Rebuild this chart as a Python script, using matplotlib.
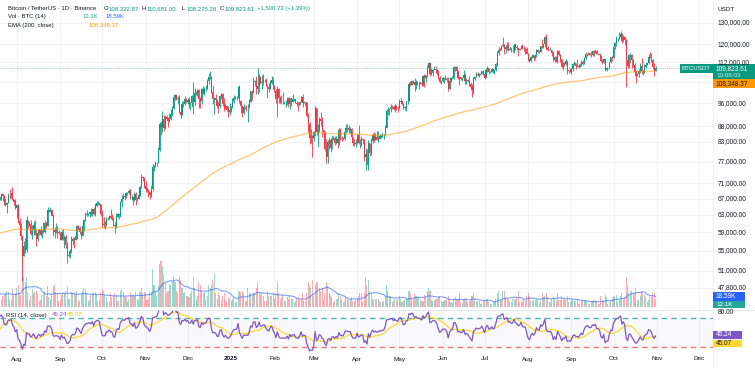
import numpy as np
import pandas as pd
import matplotlib
matplotlib.use("Agg")
import matplotlib.pyplot as plt
from matplotlib.patches import Rectangle
from matplotlib.lines import Line2D

plt.rcParams['font.family'] = ['Liberation Sans', 'DejaVu Sans']

# daily BTCUSDT candles 2024-07-01 .. 2025-10-31, prices in thousands of USDT
first_open = 62.7   # close of 2024-06-30
ema_seed = 58.4     # EMA(200) on 2024-06-30

close_k = [
    [62.9, 62.0, 60.2, 57.0, 56.7, 58.2, 55.9, 56.7, 58.0, 57.7, 57.3, 57.9, 59.2, 60.8, 64.8, 65.0, 64.1, 63.9, 66.7, 67.2, 68.2, 67.6, 65.9, 65.4, 65.8, 68.0, 67.9, 68.3, 66.8, 66.2, 64.6],
    [65.4, 61.5, 60.7, 58.1, 54.0, 56.0, 55.1, 61.7, 60.9, 60.9, 58.7, 59.4, 60.6, 58.7, 57.5, 58.9, 59.5, 58.4, 59.5, 59.0, 61.2, 60.4, 64.1, 64.2, 64.2, 62.8, 59.4, 59.0, 59.4, 59.1, 58.9],
    [57.3, 59.1, 57.5, 57.9, 56.2, 53.9, 54.2, 54.9, 57.0, 57.6, 57.4, 58.1, 60.5, 60.0, 59.1, 58.2, 60.3, 61.8, 62.9, 63.2, 63.3, 63.6, 63.3, 64.3, 63.1, 65.2, 65.8, 65.9, 65.6, 63.3],
    [60.8, 60.6, 60.7, 62.1, 62.1, 62.8, 62.2, 62.1, 60.6, 60.3, 62.4, 63.2, 62.9, 66.1, 67.0, 67.6, 67.4, 68.4, 68.4, 69.0, 67.4, 67.4, 66.7, 68.2, 66.6, 67.0, 68.0, 69.9, 72.7, 72.3, 70.2],
    [69.5, 69.3, 68.7, 67.8, 69.4, 75.6, 75.9, 76.5, 76.7, 80.4, 88.7, 87.9, 90.5, 87.4, 91.1, 90.6, 89.8, 90.5, 92.3, 94.3, 98.3, 98.9, 97.7, 98.0, 93.0, 91.9, 95.9, 95.6, 97.5, 96.4],
    [97.2, 95.8, 96.0, 98.6, 96.6, 99.9, 99.9, 101.1, 97.4, 96.7, 101.2, 100.0, 101.4, 101.4, 104.3, 106.1, 106.1, 100.2, 97.5, 97.8, 97.3, 95.2, 94.9, 98.7, 99.4, 95.8, 94.2, 95.2, 93.7, 92.8, 93.6],
    [94.6, 96.9, 98.1, 98.2, 98.3, 102.2, 96.9, 95.0, 92.5, 94.7, 94.6, 94.5, 94.5, 96.5, 100.5, 99.9, 104.1, 104.6, 101.3, 102.3, 106.1, 103.7, 103.9, 104.8, 104.7, 102.6, 102.1, 101.3, 103.7, 104.7, 102.4],
    [100.6, 97.7, 101.3, 97.9, 96.6, 96.6, 96.5, 96.5, 96.5, 97.4, 95.8, 97.9, 96.6, 97.5, 97.6, 96.1, 95.8, 95.5, 96.6, 98.3, 96.1, 96.6, 96.3, 91.6, 88.7, 84.3, 84.7, 84.3],
    [86.1, 94.3, 86.1, 87.2, 90.6, 89.9, 86.8, 86.2, 80.7, 78.5, 82.9, 83.7, 81.1, 83.9, 84.3, 82.6, 84.0, 82.7, 86.9, 84.2, 84.0, 83.8, 86.1, 87.5, 87.4, 86.9, 87.2, 84.4, 82.6, 82.4, 82.5],
    [85.2, 82.5, 83.1, 83.8, 83.5, 78.4, 79.2, 76.3, 82.6, 79.6, 83.4, 85.3, 83.7, 84.5, 83.6, 84.0, 84.9, 84.5, 85.1, 85.2, 87.5, 93.4, 93.7, 93.9, 94.7, 94.6, 93.8, 94.9, 94.3, 94.2],
    [96.5, 96.9, 95.9, 94.3, 94.7, 96.8, 97.0, 103.2, 102.9, 104.6, 104.1, 102.8, 104.2, 103.5, 103.7, 103.5, 103.1, 106.5, 105.6, 106.8, 109.7, 111.7, 107.3, 107.8, 109.0, 109.4, 108.9, 107.8, 105.6, 103.9, 104.6],
    [105.7, 105.8, 105.4, 104.7, 101.5, 104.3, 105.6, 105.7, 110.3, 110.3, 108.6, 105.7, 106.0, 105.4, 105.6, 107.0, 104.6, 105.0, 104.6, 103.3, 102.1, 100.9, 105.4, 106.0, 107.3, 106.9, 107.1, 107.3, 108.4, 107.1],
    [105.7, 108.8, 109.6, 108.0, 108.2, 109.2, 108.3, 108.9, 111.3, 115.9, 117.5, 117.4, 119.1, 119.8, 117.7, 118.7, 119.2, 117.6, 117.9, 117.3, 117.4, 119.9, 118.7, 118.3, 117.6, 117.9, 119.4, 118.0, 117.8, 117.8, 115.8],
    [113.3, 112.5, 114.2, 115.0, 114.1, 115.0, 117.5, 116.7, 116.5, 119.3, 118.7, 120.2, 123.3, 118.4, 117.4, 117.5, 117.5, 116.3, 112.9, 114.3, 112.5, 116.9, 115.4, 113.5, 110.1, 111.8, 111.3, 112.6, 108.4, 108.8, 108.2],
    [109.2, 111.2, 111.7, 110.7, 110.7, 110.2, 111.1, 112.1, 111.5, 113.9, 115.5, 116.1, 115.9, 115.3, 115.4, 116.8, 116.5, 117.1, 115.7, 115.7, 115.2, 112.7, 112.0, 113.3, 109.0, 109.6, 109.6, 112.2, 114.3, 114.0],
    [118.6, 120.5, 122.3, 122.4, 123.5, 124.7, 121.4, 123.3, 121.7, 113.2, 110.6, 115.1, 115.3, 113.1, 110.8, 108.2, 106.4, 107.2, 108.6, 110.5, 108.4, 107.6, 110.1, 111.0, 111.6, 114.5, 114.1, 112.9, 110.0, 108.32287, 109.82361],
]

high_k = [
    [63.8, 63.3, 62.3, 60.5, 58.0, 58.5, 58.2, 58.1, 58.3, 59.5, 59.4, 58.5, 59.9, 61.4, 64.9, 65.4, 65.1, 65.0, 67.4, 67.7, 68.4, 68.5, 67.8, 67.1, 66.1, 68.3, 69.4, 68.3, 70.0, 66.9, 66.8],
    [65.6, 65.6, 62.2, 61.1, 58.3, 57.0, 57.8, 62.7, 61.8, 61.5, 61.9, 60.7, 61.6, 61.8, 59.8, 59.8, 59.7, 60.3, 59.6, 61.4, 61.8, 61.4, 64.9, 64.5, 65.0, 64.5, 63.2, 60.2, 61.2, 60.3, 59.5],
    [59.0, 59.4, 59.8, 58.5, 58.3, 56.9, 54.8, 55.3, 58.1, 58.0, 57.9, 58.6, 60.6, 60.6, 60.4, 59.2, 61.3, 62.0, 63.8, 64.1, 63.5, 64.0, 64.7, 64.5, 64.8, 65.8, 66.5, 66.3, 66.1, 65.6],
    [64.1, 62.4, 61.5, 62.5, 62.4, 63.0, 64.5, 63.2, 62.5, 61.3, 63.4, 63.5, 63.3, 66.5, 67.9, 68.4, 67.9, 68.7, 68.7, 69.4, 69.5, 67.8, 67.5, 68.8, 68.8, 67.4, 68.2, 70.2, 73.6, 72.9, 72.7],
    [71.6, 70.0, 69.4, 69.0, 70.6, 76.4, 76.0, 77.2, 76.9, 81.5, 89.5, 89.9, 93.3, 91.8, 91.9, 91.8, 91.0, 92.6, 94.0, 94.9, 99.0, 99.6, 99.0, 98.7, 98.9, 94.7, 97.0, 96.7, 98.7, 98.0],
    [97.9, 98.2, 96.3, 99.0, 104.0, 101.9, 100.5, 101.4, 101.2, 98.3, 101.9, 102.5, 102.0, 102.7, 105.3, 107.8, 108.4, 106.5, 102.8, 98.2, 99.5, 97.4, 96.5, 99.0, 99.9, 99.9, 97.9, 95.6, 95.4, 94.9, 96.2],
    [94.9, 97.8, 98.9, 98.7, 98.8, 102.5, 102.7, 97.3, 95.4, 95.8, 95.0, 95.4, 95.9, 97.4, 100.7, 100.9, 105.9, 104.9, 106.3, 109.6, 107.2, 106.4, 106.9, 107.1, 105.3, 105.5, 103.2, 103.8, 104.8, 106.5, 106.1],
    [102.8, 101.5, 102.5, 101.7, 98.8, 99.2, 100.1, 96.9, 97.3, 98.3, 98.5, 98.1, 97.9, 99.5, 97.9, 97.7, 97.0, 96.3, 96.9, 98.7, 99.5, 96.9, 96.6, 96.5, 92.5, 89.3, 87.0, 85.1],
    [86.5, 95.0, 94.4, 88.9, 91.0, 92.8, 91.3, 86.9, 86.5, 84.0, 83.6, 84.4, 84.3, 85.3, 84.7, 85.0, 84.7, 84.0, 87.5, 87.5, 85.0, 84.5, 86.3, 88.8, 88.8, 88.3, 87.8, 87.5, 84.6, 83.9, 83.9],
    [85.6, 88.5, 83.9, 84.7, 84.2, 83.8, 81.2, 80.8, 83.6, 82.7, 84.3, 85.9, 86.1, 85.8, 86.5, 86.5, 85.5, 85.4, 85.7, 85.5, 88.5, 93.9, 94.7, 94.0, 95.8, 95.3, 95.0, 95.6, 95.5, 95.2],
    [97.4, 97.9, 96.9, 96.0, 95.2, 96.9, 97.7, 104.0, 104.4, 104.9, 105.0, 105.8, 104.8, 104.4, 104.2, 104.5, 103.7, 107.0, 107.1, 107.0, 110.8, 112.0, 111.9, 109.5, 109.3, 110.4, 110.7, 109.3, 108.9, 106.3, 105.0],
    [106.0, 106.0, 106.9, 106.0, 105.9, 105.3, 106.0, 106.5, 110.6, 110.4, 110.4, 108.8, 106.2, 106.2, 106.0, 108.9, 107.8, 105.6, 105.3, 106.5, 104.0, 103.1, 106.1, 106.3, 108.1, 108.0, 107.8, 107.6, 108.5, 108.8],
    [107.5, 109.8, 110.5, 109.8, 108.4, 109.7, 109.7, 109.0, 111.9, 116.9, 118.9, 118.2, 119.5, 123.2, 120.0, 119.8, 120.8, 120.9, 118.6, 118.9, 119.7, 120.2, 120.1, 119.5, 118.5, 118.3, 119.8, 119.9, 119.3, 118.8, 118.9],
    [116.0, 114.0, 114.8, 115.8, 115.1, 115.7, 117.7, 117.9, 117.6, 119.3, 122.3, 120.3, 123.7, 124.5, 119.2, 118.0, 118.6, 117.6, 116.8, 114.6, 114.8, 117.5, 117.4, 115.7, 113.6, 112.4, 112.4, 113.5, 112.7, 108.9, 109.5],
    [109.9, 111.8, 112.6, 111.8, 113.4, 111.2, 111.7, 112.9, 113.2, 114.3, 115.6, 116.3, 116.4, 116.1, 116.8, 117.0, 117.3, 117.9, 117.5, 116.2, 116.0, 115.4, 113.3, 114.0, 113.4, 110.0, 109.8, 112.4, 114.5, 114.8],
    [118.7, 121.0, 123.9, 122.9, 125.7, 126.2, 125.1, 124.2, 123.8, 122.6, 113.3, 115.8, 115.9, 115.5, 113.6, 111.9, 109.0, 107.5, 109.4, 111.7, 114.0, 109.0, 111.3, 112.0, 111.9, 115.5, 116.4, 116.1, 113.6, 111.6, 110.681],
]

low_k = [
    [62.5, 61.8, 59.9, 56.8, 53.5, 56.0, 55.7, 54.3, 56.3, 57.2, 57.0, 56.6, 57.8, 59.8, 60.6, 62.4, 63.9, 63.2, 63.3, 66.6, 66.6, 66.5, 65.5, 65.1, 63.4, 65.8, 66.8, 67.1, 66.7, 65.3, 64.5],
    [62.3, 61.1, 59.8, 57.2, 49.0, 54.0, 54.5, 54.7, 60.0, 60.3, 58.4, 57.6, 58.5, 58.5, 56.1, 57.1, 58.4, 58.2, 57.8, 58.8, 58.8, 60.0, 60.4, 63.6, 63.6, 62.8, 58.1, 57.8, 58.8, 57.8, 58.7],
    [57.2, 57.2, 57.4, 55.6, 55.6, 52.5, 53.7, 53.6, 54.6, 56.3, 55.5, 57.3, 57.6, 59.6, 58.7, 57.5, 58.2, 59.2, 61.6, 62.7, 62.8, 62.4, 62.7, 62.7, 62.9, 62.7, 65.0, 65.4, 65.4, 62.8],
    [60.1, 59.9, 59.8, 60.4, 61.9, 62.0, 62.1, 61.8, 60.3, 58.9, 60.0, 62.4, 62.0, 62.4, 64.8, 66.9, 66.6, 67.1, 67.9, 68.1, 66.8, 66.6, 65.3, 66.5, 65.5, 66.4, 66.8, 67.6, 69.7, 71.5, 69.6],
    [68.8, 68.8, 67.5, 66.8, 67.5, 68.9, 74.4, 75.6, 75.7, 76.5, 80.2, 85.1, 86.2, 86.6, 87.1, 90.0, 87.7, 89.4, 90.0, 91.6, 94.0, 97.2, 97.1, 95.8, 92.6, 90.8, 91.8, 94.6, 95.3, 96.2],
    [95.7, 94.2, 93.6, 94.5, 92.1, 95.5, 98.9, 98.6, 94.2, 94.3, 95.7, 99.3, 99.2, 100.6, 101.2, 103.3, 105.3, 100.0, 95.7, 92.2, 95.7, 94.2, 92.5, 94.2, 97.6, 95.2, 93.4, 94.0, 93.3, 91.3, 91.9],
    [92.8, 94.2, 96.0, 97.6, 97.3, 97.9, 96.1, 92.5, 91.2, 92.2, 93.8, 93.3, 89.3, 94.4, 96.5, 97.3, 99.9, 102.3, 99.5, 99.6, 100.1, 103.2, 101.3, 102.8, 104.1, 102.4, 97.8, 100.3, 101.3, 103.2, 101.5],
    [100.3, 96.2, 91.2, 96.2, 96.2, 95.7, 95.7, 95.7, 94.7, 95.3, 94.8, 94.1, 95.2, 96.4, 97.0, 96.0, 95.2, 93.4, 95.5, 96.4, 94.8, 96.1, 95.2, 91.1, 86.1, 82.3, 82.7, 78.3],
    [83.4, 85.0, 85.2, 81.4, 86.3, 88.0, 84.6, 85.7, 80.1, 76.6, 76.6, 80.8, 79.9, 80.9, 83.6, 82.0, 82.4, 81.2, 82.0, 83.6, 83.2, 83.6, 83.7, 85.9, 86.3, 85.8, 85.8, 84.0, 81.6, 81.6, 81.3],
    [82.4, 82.3, 81.2, 81.7, 82.3, 77.2, 74.5, 76.2, 74.6, 78.6, 78.9, 82.6, 83.0, 83.5, 83.6, 83.1, 83.9, 84.3, 84.4, 83.9, 85.1, 87.3, 91.8, 91.7, 92.9, 93.9, 93.6, 92.9, 93.7, 92.9],
    [94.1, 96.1, 95.5, 94.0, 93.5, 93.4, 95.8, 96.8, 102.3, 102.8, 103.2, 100.7, 101.4, 102.7, 101.4, 103.1, 102.6, 102.6, 102.0, 104.2, 106.1, 109.3, 106.6, 106.8, 106.6, 108.9, 107.6, 106.8, 105.3, 103.6, 103.1],
    [103.9, 103.7, 104.9, 104.2, 100.4, 101.3, 103.9, 105.1, 105.3, 108.4, 108.3, 105.4, 102.7, 104.9, 104.4, 105.5, 103.4, 103.3, 104.2, 102.3, 101.0, 98.2, 99.6, 104.7, 105.9, 106.4, 106.1, 106.9, 107.1, 106.7],
    [105.3, 105.6, 108.0, 107.2, 107.7, 107.9, 107.5, 107.4, 108.4, 110.6, 115.2, 116.9, 117.2, 118.8, 115.7, 116.0, 117.3, 116.8, 117.3, 116.6, 116.6, 116.2, 117.3, 117.2, 114.7, 117.3, 117.8, 117.7, 116.9, 115.7, 115.5],
    [112.7, 112.0, 112.1, 114.1, 112.6, 113.4, 114.3, 115.9, 116.2, 116.5, 118.5, 118.2, 118.8, 117.2, 116.8, 117.2, 117.3, 114.7, 112.7, 112.4, 112.4, 111.7, 114.7, 112.1, 109.7, 108.7, 110.4, 110.8, 107.3, 107.5, 108.1],
    [107.3, 108.6, 110.9, 109.3, 110.2, 109.9, 110.0, 110.6, 110.9, 111.6, 113.4, 114.8, 115.3, 115.1, 114.4, 114.8, 114.7, 116.3, 115.5, 115.4, 115.0, 112.0, 111.2, 111.8, 108.6, 108.6, 109.2, 109.5, 111.6, 112.6],
    [113.9, 118.0, 119.3, 121.6, 122.2, 123.1, 120.6, 121.1, 119.6, 102.0, 109.7, 109.6, 111.9, 109.7, 110.0, 107.5, 103.5, 106.3, 106.1, 107.5, 107.2, 106.7, 107.5, 109.7, 110.8, 111.5, 113.7, 112.0, 109.2, 106.3, 108.27528],
]

# daily volume, thousands of BTC
vol_k = [
    [15, 18, 25, 35, 50, 22, 18, 28, 24, 20, 22, 25, 18, 20, 35, 30, 25, 22, 30, 18, 15, 20, 22, 25, 30, 28, 15, 12, 32, 22, 25],
    [35, 40, 25, 22, 100, 55, 45, 55, 28, 12, 20, 32, 25, 28, 30, 25, 10, 13, 22, 25, 28, 20, 38, 18, 14, 22, 38, 40, 28, 26, 10],
    [12, 22, 28, 25, 30, 38, 15, 14, 28, 25, 27, 22, 30, 12, 10, 25, 30, 35, 33, 25, 10, 12, 22, 25, 25, 28, 22, 10, 12, 28],
    [32, 30, 22, 18, 8, 9, 25, 18, 20, 25, 22, 10, 10, 30, 33, 28, 20, 18, 9, 14, 25, 20, 22, 20, 28, 14, 12, 28, 35, 25, 28],
    [25, 12, 15, 30, 28, 70, 40, 30, 20, 40, 80, 85, 75, 60, 45, 25, 30, 40, 40, 45, 55, 45, 30, 25, 55, 50, 35, 25, 28, 20],
    [20, 18, 25, 30, 55, 35, 15, 20, 45, 40, 30, 25, 28, 15, 20, 40, 35, 40, 50, 60, 25, 15, 25, 22, 12, 20, 25, 12, 10, 18, 15],
    [10, 15, 18, 8, 8, 30, 30, 28, 30, 25, 10, 10, 35, 25, 25, 22, 28, 25, 35, 45, 25, 22, 25, 20, 10, 10, 30, 20, 20, 20, 25],
    [15, 25, 45, 25, 15, 18, 22, 10, 10, 18, 15, 20, 15, 14, 8, 8, 15, 18, 12, 14, 25, 10, 8, 25, 45, 40, 35, 50],
    [20, 40, 45, 45, 35, 30, 35, 15, 25, 45, 40, 25, 20, 18, 8, 10, 15, 15, 25, 20, 12, 8, 10, 18, 15, 12, 15, 18, 10, 10, 15],
    [15, 20, 25, 25, 8, 25, 55, 40, 50, 30, 25, 15, 15, 15, 14, 15, 10, 8, 8, 10, 20, 40, 30, 20, 20, 8, 10, 15, 12, 15],
    [20, 15, 8, 10, 12, 14, 15, 30, 25, 15, 15, 25, 20, 18, 18, 15, 10, 10, 22, 18, 30, 35, 30, 12, 10, 12, 15, 15, 18, 20, 10],
    [8, 10, 12, 12, 20, 15, 8, 7, 15, 18, 15, 15, 25, 8, 6, 15, 15, 12, 8, 10, 10, 20, 25, 15, 10, 10, 10, 5, 5, 10],
    [12, 15, 15, 8, 5, 5, 8, 8, 15, 25, 30, 12, 10, 30, 30, 18, 15, 15, 8, 8, 15, 15, 15, 18, 30, 8, 8, 12, 15, 12, 20],
    [25, 20, 10, 10, 12, 12, 15, 12, 8, 12, 25, 18, 20, 25, 18, 8, 8, 15, 18, 15, 10, 25, 12, 12, 20, 15, 15, 12, 20, 8, 8],
    [12, 15, 10, 12, 15, 5, 5, 10, 12, 12, 10, 10, 5, 5, 10, 10, 12, 12, 10, 5, 5, 20, 12, 10, 22, 18, 5, 6, 12, 15],
    [20, 18, 22, 8, 12, 20, 25, 15, 18, 55, 40, 25, 30, 30, 25, 25, 35, 12, 12, 20, 30, 25, 22, 18, 8, 12, 20, 18, 25, 26, 12.1],
]

month_labels = ['Aug', 'Sep', 'Oct', 'Nov', 'Dec', '2025', 'Feb', 'Mar', 'Apr', 'May',
                'Jun', 'Jul', 'Aug', 'Sep', 'Oct', 'Nov', 'Dec']
price_ticks = [130000, 120000, 112000, 104000, 96000, 88000, 83000, 77000, 71000,
               67000, 63000, 59000, 55000, 51000, 47800]
hidden_ticks = [104000]   # its label sits under the EMA price tag

months = pd.period_range('2024-07', '2025-10', freq='M')
for name, rows in [('close', close_k), ('high', high_k), ('low', low_k), ('vol', vol_k)]:
    for m, row in zip(months, rows):
        assert len(row) == m.days_in_month, (name, str(m), len(row))

c = np.concatenate(close_k)
h = np.concatenate(high_k)
l = np.concatenate(low_k)
v = np.concatenate(vol_k)
o = np.r_[first_open, c[:-1]]
h = np.maximum(h, np.maximum(o, c))
l = np.minimum(l, np.minimum(o, c))
up = c >= o

dates = pd.date_range('2024-07-01', '2025-10-31', freq='D')
base = pd.Timestamp('2024-08-01')
x = (dates - base).days.to_numpy()

# indicators
ema = np.empty_like(c)
e = ema_seed
for i, ci in enumerate(c):
    e = e + 2 / 201 * (ci - e)
    ema[i] = e
vma = pd.Series(v).rolling(14, min_periods=1).mean()
delta = np.diff(c, prepend=first_open)
ag = pd.Series(np.clip(delta, 0, None)).ewm(alpha=1 / 14, adjust=False).mean()
al = pd.Series(np.clip(-delta, 0, None)).ewm(alpha=1 / 14, adjust=False).mean()
rsi = 100 - 100 / (1 + ag / al)
rsi_ma = rsi.rolling(14, min_periods=1).mean()

# layout in pixels
W, H = 755, 368
X0, XD = 16.7, 1.401          # px of 2024-08-01, px per day
GREEN, RED = '#089981', '#f23645'
DARK = '#131722'
GRID = '#f0f2f6'


def box(x0, y0, x1, y1):
    return [x0 / W, 1 - y1 / H, (x1 - x0) / W, (y1 - y0) / H]


def price_y(p):
    return 23 + np.log(130000 / p) * 264.9


fig = plt.figure(figsize=(W / 100, H / 100), dpi=100)
ax_vol = fig.add_axes(box(0, 0, 713, 309))
ax = fig.add_axes(box(0, 0, 713, 309), sharex=ax_vol)
ax_rsi = fig.add_axes(box(0, 310, 713, 352), sharex=ax_vol)
for a in (ax_vol, ax, ax_rsi):
    a.set_axis_off()
ax_vol.set_xlim((0 - X0) / XD, (713 - X0) / XD)
ax.set_yscale('log')
ax.set_ylim(44.16, 141.8)
ax_vol.set_ylim(-4.26, 568)
ax_rsi.set_ylim(23.1, 81.0)

mstarts = pd.date_range('2024-08-01', '2025-12-01', freq='MS')
mx = (mstarts - base).days.to_numpy()
for xm in mx:
    ax_vol.axvline(xm, color=GRID, lw=0.8, zorder=0)
    ax_rsi.axvline(xm, color=GRID, lw=0.8, zorder=0)
for p in price_ticks:
    ax_vol.axhline((309 - price_y(p)) / 309 * 572.26 - 4.26, color=GRID, lw=0.8, zorder=0)

# volume
vcol = np.where(up, GREEN, RED)
ax_vol.bar(x, v, width=0.75, color=vcol, alpha=0.4, linewidth=0)
ax_vol.plot(x, vma, color='#2962ff', lw=0.8, alpha=0.6)

# candles
ax.vlines(x, l, h, colors=vcol, lw=0.6)
ax.bar(x, np.abs(c - o), bottom=np.minimum(o, c), width=0.78, color=vcol, linewidth=0)
ax.plot(x, ema, color='#ff9800', lw=0.9, alpha=0.55)
ax.axhline(c[-1], color=GREEN, lw=0.6, ls=(0, (1, 1.5)), alpha=0.6)

# RSI
ax_rsi.axhspan(30, 70, color='#7e57c2', alpha=0.04, lw=0)
ax_rsi.axhline(70, color='#26a69a', lw=1.0, ls=(0, (4, 3)), alpha=0.8)
ax_rsi.axhline(30, color='#ef5350', lw=1.0, ls=(0, (4, 3)), alpha=0.8)
ax_rsi.plot(x, rsi_ma, color='#fdd835', lw=0.9)
ax_rsi.plot(x, rsi, color='#7e57c2', lw=0.9)

fig.add_artist(Line2D([0, 1], [1 - 309.5 / H] * 2, color='#e0e3eb', lw=0.6))
fig.add_artist(Line2D([713 / W] * 2, [0, 1], color='#eef0f4', lw=0.6))


def T(xp, yp, s, color=DARK, size=4.3, ha='left', weight='normal', alpha=1.0):
    fig.text(xp / W, 1 - yp / H, s, color=color, fontsize=size, ha=ha, va='center',
             fontweight=weight, alpha=alpha, zorder=6)


def R(x0, y0, x1, y1, color):
    fig.add_artist(Rectangle((x0 / W, 1 - y1 / H), (x1 - x0) / W, (y1 - y0) / H,
                             transform=fig.transFigure, color=color, lw=0, zorder=5))


# legend lines
T(8, 8.5, 'Bitcoin / TetherUS · 1D · Binance')
for xp, lab, val in [(104, 'O', '108,322.87'), (142, 'H', '110,681.00'),
                     (182, 'L', '108,275.28'), (220, 'C', '109,823.61')]:
    T(xp, 8.5, lab)
    T(xp + 4.3, 8.5, val, GREEN)
T(257, 8.5, '+1,500.73 (+1.39%)', GREEN)
T(8, 16.5, 'Vol · BTC (14)')
T(83, 16.5, '12.1K', '#26a69a')
T(106, 16.5, '18.59K', '#2962ff')
T(8, 25, 'EMA (200, close)')
T(89, 25, '108,348.37', '#ff9800')
T(6.5, 315, 'RSI (14, close)', size=4.4)
T(51.5, 315, '45.24', '#7e57c2', size=4.4)
T(66.5, 315, '45.07', '#f2c200', size=4.4)

# right scale
T(718, 9.5, 'USDT', size=4.6)
for p in price_ticks:
    if p not in hidden_ticks:
        T(718, price_y(p), f'{p:,.2f}', size=4.7)
T(718, 313, '80.00', size=4.7)

R(680, 64, 713, 72.5, GREEN)
T(696.5, 68.3, 'BTCUSDT', 'white', size=4.4, ha='center')
R(713, 64, 755, 79, GREEN)
T(716, 68.3, '109,823.61', 'white', size=4.7)
T(716, 75.3, '10:08:03', 'white', size=4.5, alpha=0.85)
R(713, 79, 755, 88.3, '#ff9800')
T(716, 83.7, '108,348.37', DARK, size=4.7)
R(713, 301, 745, 307.5, '#26a69a')
T(716, 304.6, '12.1K', 'white', size=4.5)
R(713, 292, 745, 301, '#2962ff')
T(716, 296.6, '18.59K', 'white', size=4.7)
R(713, 331, 742, 338.5, '#7e57c2')
T(716, 334.8, '45.24', 'white', size=4.7)
R(713, 339.5, 742, 347, '#fdd835')
T(716, 343.3, '45.07', DARK, size=4.7)

# time axis
for xm, lab in zip(mx, month_labels):
    T(X0 + XD * xm, 359, lab, size=4.6, ha='center',
      weight='bold' if lab == '2025' else 'normal')

fig.savefig('out.png', dpi=100, facecolor='white')
